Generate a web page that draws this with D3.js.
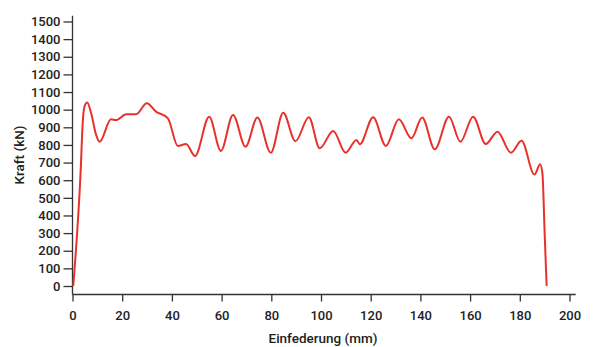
<!DOCTYPE html>
<html>
<head>
<meta charset="utf-8">
<script src="https://cdn.jsdelivr.net/npm/d3@7"></script>
<style>
  body { margin: 0; background: #fff; }
  svg text { font-family: Roboto, "DejaVu Sans", sans-serif; font-weight: 500; fill: #222; }
</style>
</head>
<body>
<div id="container"></div>
<script>
// Einfederung (mm) vs Kraft (kN)
const travel = [0.3, 3.3, 4.1, 4.8, 5.9, 7.5, 9.5, 10.9, 15.5, 17.5, 21.6, 25.6, 29.9, 33.6, 38.4, 42.4, 45.7, 49.3,
  55.0, 59.7, 64.6, 69.6, 74.4, 79.8, 84.8, 89.7, 95.1, 99.5, 104.9, 109.9, 114.3, 115.6, 121.0, 126.1,
  131.3, 136.4, 140.7, 145.8, 151.5, 156.1, 161.2, 166.3, 171.0, 176.4, 180.7, 185.9, 188.2, 189.1, 190.0, 190.8]
const force = [0, 658, 923, 1017, 1040, 980, 857, 818, 945, 941, 974, 974, 1036, 989, 951, 794, 805, 737,
  960, 766, 970, 790, 955, 756, 983, 821, 957, 781, 879, 756, 828, 804, 957, 794,
  945, 838, 955, 775, 960, 818, 960, 805, 875, 756, 824, 632, 691, 639, 299, 0]

const yTicks = d3.range(0, 1501, 100)
const xTicks = d3.range(0, 201, 20)

const width = 593
const height = 347

const svg = d3.select('#container')
  .append('svg')
  .attr('width', width)
  .attr('height', height)

const scaleX = d3.scaleLinear().domain([0, 200]).range([72.5, 569.5])
const scaleY = d3.scaleLinear().domain([0, 1500]).range([286, 21.5])
const axisY0 = 294.5

// x axis
const gx = svg.append('g')
  .attr('transform', `translate(0, ${axisY0})`)
  .call(d3.axisBottom(scaleX).tickValues(xTicks).tickFormat(d3.format('d'))
    .tickSize(7).tickPadding(9).tickSizeOuter(0))
gx.select('.domain').remove()
gx.append('line')
  .attr('x1', scaleX(0)).attr('x2', scaleX(202.5))
  .attr('stroke', '#333').attr('stroke-width', 1.3)

// y axis
const gy = svg.append('g')
  .attr('transform', `translate(${scaleX(0)}, 0)`)
  .call(d3.axisLeft(scaleY).tickValues(yTicks).tickFormat(d3.format('d'))
    .tickSize(9).tickPadding(3).tickSizeOuter(0))
gy.select('.domain').remove()
gy.append('line')
  .attr('y1', scaleY(1532)).attr('y2', axisY0)
  .attr('stroke', '#333').attr('stroke-width', 1.3)

svg.selectAll('.tick line').attr('stroke', '#333').attr('stroke-width', 1.3)
svg.selectAll('.tick text').style('font-size', '13px')

// axis titles
svg.append('text')
  .attr('x', 323)
  .attr('y', 343)
  .attr('text-anchor', 'middle')
  .style('font-size', '13.5px')
  .text('Einfederung (mm)')

svg.append('text')
  .attr('transform', 'translate(24, 155) rotate(-90)')
  .attr('text-anchor', 'middle')
  .style('font-size', '13.5px')
  .text('Kraft (kN)')

// curve
const points = travel.map((t, i) => [t, force[i]])
const line = d3.line()
  .x(d => scaleX(d[0]))
  .y(d => scaleY(d[1]))
  .curve(d3.curveMonotoneX)

svg.append('path')
  .datum(points)
  .attr('d', line)
  .attr('fill', 'none')
  .attr('stroke', '#e8312a')
  .attr('stroke-width', 2)
  .attr('stroke-linejoin', 'round')
</script>
</body>
</html>
